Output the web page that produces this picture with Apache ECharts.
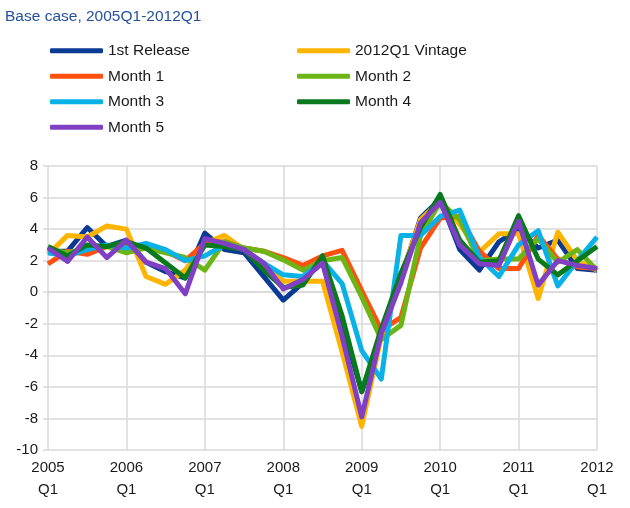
<!DOCTYPE html>
<html>
<head>
<meta charset="utf-8">
<script src="https://cdn.jsdelivr.net/npm/echarts@6/dist/echarts.min.js"></script>
<style>
  html, body { margin: 0; padding: 0; background: #fff; }
  #chart { width: 630px; height: 508px; }
</style>
</head>
<body>
<div id="chart"></div>
<script>
const quarters = [];
for (let y = 2005; y <= 2012; y++) {
  for (let q = 1; q <= 4; q++) {
    if (y === 2012 && q > 1) break;
    quarters.push(`${y}Q${q}`);
  }
}

const firstRelease = [2.6, 2.6, 4.1, 2.9, 3.3, 1.9, 1.3, 0.9, 3.75, 2.7, 2.5, 1.0, -0.5, 0.6, 2.1, -2.0, -6.3, -2.8, 0.9, 4.7, 5.9, 2.7, 1.4, 3.2, 4.0, 2.8, 3.3, 1.5, 1.4];
const vintage2012 = [2.4, 3.6, 3.5, 4.2, 4.0, 1.0, 0.5, 1.4, 3.1, 3.6, 2.7, 1.65, 0.7, 0.7, 0.7, -3.8, -8.5, -2.8, 1.0, 4.6, 5.8, 4.3, 2.55, 3.7, 3.7, -0.4, 3.8, 2.0, 1.4];
const month1 = [1.8, 2.6, 2.4, 2.9, 3.1, 2.8, 2.6, 2.0, 3.1, 3.2, 2.8, 2.6, 2.2, 1.7, 2.3, 2.65, 0.1, -2.4, -1.6, 2.8, 4.7, 4.8, 2.6, 1.5, 1.5, 3.6, 2.1, 1.6, 1.5];
const month2 = [2.7, 2.5, 2.8, 2.9, 2.5, 2.8, 2.5, 2.2, 1.4, 3.2, 2.8, 2.6, 2.05, 1.4, 2.0, 2.2, -0.3, -3.0, -2.1, 3.6, 5.7, 4.6, 2.0, 2.1, 2.1, 3.4, 1.9, 2.7, 1.4];
const month3 = [2.5, 2.3, 2.7, 3.0, 2.8, 3.1, 2.7, 2.0, 2.3, 3.0, 2.7, 1.85, 1.1, 1.0, 2.0, 0.55, -3.7, -5.5, 3.6, 3.6, 4.8, 5.2, 2.2, 1.0, 3.0, 3.9, 0.4, 2.0, 3.5];
const month4 = [2.9, 2.3, 3.0, 2.9, 3.2, 2.8, 1.85, 0.9, 3.0, 2.9, 2.7, 1.4, 0.3, 0.45, 2.3, -1.5, -6.3, -2.3, 1.2, 4.1, 6.2, 3.3, 1.9, 2.0, 4.85, 2.1, 1.1, 2.0, 2.9];
const month5 = [2.8, 1.95, 3.5, 2.2, 3.3, 1.9, 1.5, -0.1, 3.4, 3.1, 2.7, 1.85, 0.2, 0.8, 1.85, -2.8, -7.9, -2.6, 0.6, 4.4, 5.7, 3.0, 1.8, 1.7, 4.5, 0.45, 2.0, 1.7, 1.5];

const seriesDefs = [
  { name: "1st Release", data: firstRelease, color: "#0a3a94" },
  { name: "2012Q1 Vintage", data: vintage2012, color: "#ffb400" },
  { name: "Month 1", data: month1, color: "#ff5010" },
  { name: "Month 2", data: month2, color: "#6cb514" },
  { name: "Month 3", data: month3, color: "#08b2e6" },
  { name: "Month 4", data: month4, color: "#087a1c" },
  { name: "Month 5", data: month5, color: "#8040c4" },
];

const gridGray = "#d9d9d9";
const font = "Liberation Sans, Arial, sans-serif";

const legendBase = {
  orient: "vertical",
  top: 42,
  padding: 0,
  itemWidth: 53,
  itemHeight: 5,
  itemGap: 8,
  icon: "roundRect",
  textStyle: { fontFamily: font, fontSize: 15.5, color: "#1a1a1a", lineHeight: 17.5 },
};

const chart = echarts.init(document.getElementById("chart"));
chart.setOption({
  animation: false,
  title: {
    text: "Base case, 2005Q1-2012Q1",
    left: 0,
    top: 4,
    textStyle: { fontFamily: font, fontSize: 15.5, fontWeight: "normal", color: "#24509f" },
  },
  legend: [
    Object.assign({}, legendBase, { left: 50, data: ["1st Release", "Month 1", "Month 3", "Month 5"] }),
    Object.assign({}, legendBase, { left: 297, data: ["2012Q1 Vintage", "Month 2", "Month 4"] }),
  ],
  grid: { left: 48, right: 33, top: 166, bottom: 58 },
  xAxis: {
    type: "category",
    data: quarters,
    boundaryGap: false,
    axisLine: { lineStyle: { color: gridGray, width: 1.5 } },
    axisTick: { interval: 3, length: 5, lineStyle: { color: gridGray, width: 1.5 } },
    splitLine: { show: true, interval: 3, lineStyle: { color: gridGray, width: 1.5 } },
    axisLabel: {
      interval: 3,
      fontFamily: font,
      fontSize: 15,
      color: "#1a1a1a",
      lineHeight: 22,
      margin: 7,
      formatter: (v) => v.replace("Q", "\nQ"),
    },
  },
  yAxis: {
    type: "value",
    min: -10,
    max: 8,
    interval: 2,
    axisLine: { show: false },
    axisTick: { show: true, length: 5, lineStyle: { color: gridGray, width: 1.5 } },
    splitLine: { lineStyle: { color: gridGray, width: 1.5 } },
    axisLabel: { fontFamily: font, fontSize: 15, color: "#1a1a1a", margin: 10 },
  },
  series: seriesDefs.map((s) => ({
    name: s.name,
    type: "line",
    data: s.data,
    symbol: "none",
    color: s.color,
    lineStyle: { width: 5, color: s.color, join: "round" },
  })),
});
</script>
</body>
</html>
